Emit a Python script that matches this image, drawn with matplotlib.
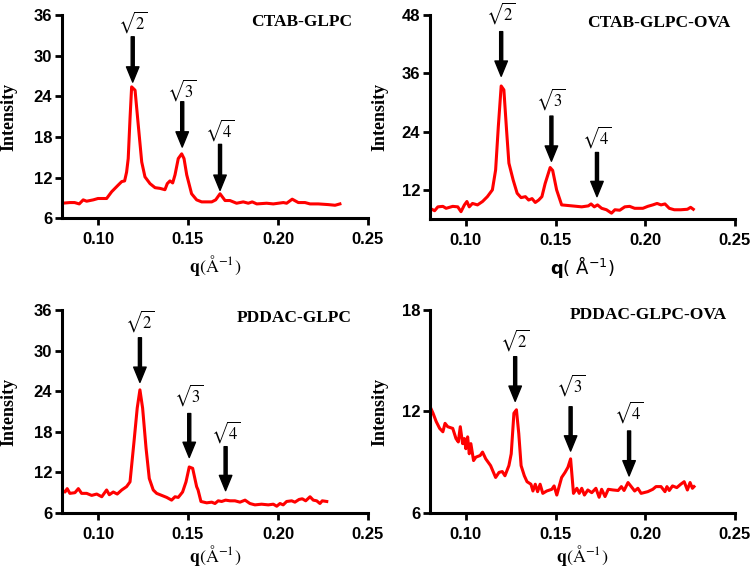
import matplotlib
matplotlib.use("Agg")
import matplotlib.pyplot as plt

plt.rcParams['mathtext.fontset'] = 'stix'

# ---------- data ----------
q_ctab = [0.0800, 0.0844, 0.0870, 0.0896, 0.0918, 0.0937, 0.0974, 0.1000, 0.1048, 0.1076,
          0.1113, 0.1132, 0.1148, 0.1159, 0.1168, 0.1178, 0.1187, 0.1206, 0.1224, 0.1243,
          0.1261, 0.1289, 0.1317, 0.1344, 0.1372, 0.1385, 0.1400, 0.1415, 0.1428, 0.1446,
          0.1465, 0.1478, 0.1493, 0.1520, 0.1548, 0.1576, 0.1632, 0.1654, 0.1678, 0.1706,
          0.1733, 0.1770, 0.1807, 0.1835, 0.1857, 0.1882, 0.1937, 0.1974, 0.2030, 0.2048,
          0.2079, 0.2113, 0.2150, 0.2178, 0.2224, 0.2279, 0.2317, 0.2344]
i_ctab = [8.2, 8.3, 8.3, 8.1, 8.7, 8.5, 8.7, 8.9, 8.9, 9.9,
          10.9, 11.4, 11.5, 12.8, 14.8, 20.7, 25.4, 24.9, 19.7, 14.3,
          12.1, 11.1, 10.5, 10.4, 10.2, 11.1, 11.5, 11.2, 12.4, 14.8,
          15.5, 14.8, 12.4, 9.6, 8.7, 8.4, 8.4, 8.7, 9.6, 8.6,
          8.6, 8.2, 8.4, 8.2, 8.4, 8.1, 8.2, 8.1, 8.3, 8.2,
          8.8, 8.3, 8.3, 8.1, 8.1, 8.0, 7.9, 8.1]

q_ctab_ova = [0.0800, 0.0826, 0.0844, 0.0872, 0.0890, 0.0927, 0.0955, 0.0973, 0.0992, 0.1006,
              0.1019, 0.1037, 0.1065, 0.1093, 0.1120, 0.1148, 0.1166, 0.1181, 0.1197, 0.1212,
              0.1227, 0.1240, 0.1264, 0.1286, 0.1308, 0.1332, 0.1350, 0.1369, 0.1387, 0.1406,
              0.1424, 0.1442, 0.1470, 0.1484, 0.1506, 0.1534, 0.1591, 0.1646, 0.1683, 0.1698,
              0.1716, 0.1734, 0.1757, 0.1784, 0.1812, 0.1831, 0.1858, 0.1886, 0.1913, 0.1941,
              0.1987, 0.2014, 0.2042, 0.2066, 0.2088, 0.2110, 0.2134, 0.2162, 0.2198, 0.2235,
              0.2253, 0.2268]
i_ctab_ova = [8.2, 7.7, 8.5, 8.6, 8.2, 8.6, 8.5, 7.5, 8.9, 9.6,
              8.5, 9.2, 8.9, 9.6, 10.6, 12.0, 16.1, 25.0, 33.4, 32.6,
              24.3, 17.5, 14.0, 11.3, 10.4, 10.6, 9.9, 10.2, 9.4, 9.9,
              10.6, 13.3, 16.6, 16.0, 12.0, 8.9, 8.7, 8.5, 8.7, 9.1,
              8.5, 8.9, 8.2, 7.9, 7.2, 7.9, 7.8, 8.5, 8.6, 8.2,
              8.2, 8.6, 8.9, 9.2, 8.9, 9.1, 8.2, 7.9, 7.9, 8.0,
              8.4, 8.0]

q_pddac = [0.0800, 0.0817, 0.0829, 0.0844, 0.0872, 0.0891, 0.0909, 0.0937, 0.0965, 0.0993,
           0.1021, 0.1048, 0.1063, 0.1085, 0.1107, 0.1132, 0.1159, 0.1178, 0.1200, 0.1218,
           0.1233, 0.1248, 0.1267, 0.1285, 0.1307, 0.1326, 0.1354, 0.1382, 0.1409, 0.1428,
           0.1446, 0.1470, 0.1489, 0.1507, 0.1526, 0.1548, 0.1556, 0.1572, 0.1604, 0.1632,
           0.1650, 0.1668, 0.1687, 0.1709, 0.1733, 0.1761, 0.1789, 0.1817, 0.1844, 0.1872,
           0.1909, 0.1946, 0.1974, 0.1993, 0.2011, 0.2029, 0.2048, 0.2076, 0.2094, 0.2117,
           0.2135, 0.2154, 0.2178, 0.2196, 0.2215, 0.2233, 0.2246, 0.2271]
i_pddac = [9.4, 9.1, 9.6, 8.9, 9.0, 9.6, 8.9, 8.9, 8.6, 8.8,
           8.4, 9.4, 8.7, 9.1, 8.8, 9.4, 9.9, 10.6, 16.5, 21.5,
           24.2, 21.5, 15.6, 11.1, 9.4, 8.9, 8.6, 8.3, 7.9, 8.4,
           8.3, 9.1, 10.6, 12.8, 12.6, 9.9, 9.4, 7.7, 7.5, 7.6,
           7.4, 7.8, 7.7, 7.9, 7.8, 7.8, 7.6, 7.9, 7.4, 7.2,
           7.3, 7.2, 7.3, 7.0, 7.4, 7.2, 7.7, 7.8, 7.6, 8.0,
           8.1, 7.8, 8.4, 7.9, 7.8, 7.4, 7.8, 7.7]

q_pddac_ova = [0.0800, 0.0817, 0.0835, 0.0854, 0.0872, 0.0884, 0.0899, 0.0927, 0.0945, 0.0958,
               0.0969, 0.0982, 0.0992, 0.1000, 0.1010, 0.1019, 0.1028, 0.1043, 0.1056, 0.1080,
               0.1093, 0.1111, 0.1138, 0.1166, 0.1185, 0.1203, 0.1218, 0.1240, 0.1253, 0.1268,
               0.1282, 0.1295, 0.1308, 0.1326, 0.1341, 0.1363, 0.1374, 0.1387, 0.1400, 0.1414,
               0.1429, 0.1451, 0.1479, 0.1492, 0.1507, 0.1534, 0.1553, 0.1569, 0.1584, 0.1600,
               0.1619, 0.1632, 0.1646, 0.1661, 0.1680, 0.1702, 0.1725, 0.1743, 0.1757, 0.1776,
               0.1794, 0.1821, 0.1849, 0.1867, 0.1882, 0.1904, 0.1922, 0.1941, 0.1959, 0.1977,
               0.2014, 0.2042, 0.2060, 0.2088, 0.2110, 0.2121, 0.2134, 0.2152, 0.2176, 0.2198,
               0.2217, 0.2235, 0.2250, 0.2263, 0.2272]
i_pddac_ova = [12.3, 11.9, 11.4, 11.0, 10.8, 11.3, 11.1, 11.0, 10.4, 10.2,
               11.1, 10.1, 10.4, 9.8, 10.5, 9.5, 10.1, 9.1, 9.3, 9.4,
               9.6, 9.2, 8.8, 8.1, 8.4, 8.45, 8.2, 8.8, 9.5, 11.9,
               12.1, 10.7, 8.8, 8.2, 7.85, 7.7, 7.3, 7.7, 7.26, 7.7,
               7.16, 7.3, 7.4, 7.6, 7.06, 8.1, 8.4, 8.7, 9.2, 7.16,
               7.46, 7.16, 7.46, 7.06, 7.36, 7.2, 7.46, 6.93, 7.4, 6.97,
               7.4, 7.36, 7.33, 7.56, 7.33, 7.8, 7.56, 7.3, 7.46, 7.16,
               7.26, 7.4, 7.56, 7.56, 7.26, 7.56, 7.33, 7.6, 7.5, 7.7,
               7.85, 7.36, 7.8, 7.46, 7.56]

titles = ['CTAB-GLPC', 'CTAB-GLPC-OVA', 'PDDAC-GLPC', 'PDDAC-GLPC-OVA']
peak_names = [r'$\sqrt{2}$', r'$\sqrt{3}$', r'$\sqrt{4}$']
y_limits = [(6, 36), (6, 48), (6, 36), (6, 18)]
y_ticks = [[6, 12, 18, 24, 30, 36], [12, 24, 36, 48], [6, 12, 18, 24, 30, 36], [6, 12, 18]]
x_ticks = [0.10, 0.15, 0.20, 0.25]

# arrow x, arrow top, arrow tip, label y  (one row per peak)
marks_ctab = [(0.1193, 32.8, 26.1, 35.0), (0.1468, 23.2, 16.5, 24.9), (0.1678, 16.9, 10.1, 19.0)]
marks_ctab_ova = [(0.1197, 44.6, 35.4, 48.4), (0.1477, 27.2, 17.9, 30.8), (0.1731, 19.7, 10.6, 22.9)]
marks_pddac = [(0.1233, 31.9, 25.3, 34.3), (0.1507, 20.7, 14.2, 23.4), (0.1709, 15.8, 9.3, 18.0)]
marks_pddac_ova = [(0.1275, 15.24, 12.6, 16.2), (0.1584, 12.28, 9.66, 13.56), (0.1910, 10.85, 8.19, 11.99)]

# ---------- plotting ----------
fig = plt.figure(figsize=(7.53, 5.71), dpi=100)

positions = [[0.0823, 0.618, 0.4064, 0.3555],
             [0.571, 0.6165, 0.405, 0.357],
             [0.0823, 0.1016, 0.4064, 0.3555],
             [0.571, 0.1016, 0.405, 0.3555]]
curves = [(q_ctab, i_ctab), (q_ctab_ova, i_ctab_ova), (q_pddac, i_pddac), (q_pddac_ova, i_pddac_ova)]
marks = [marks_ctab, marks_ctab_ova, marks_pddac, marks_pddac_ova]
title_pos = [(0.95, 0.965), (0.985, 0.96), (0.947, 0.959), (0.972, 0.975)]

tick_font = dict(family='Liberation Sans', weight='bold', size=12)

for k in range(4):
    ax = fig.add_axes(positions[k])
    q, inten = curves[k]
    ax.plot(q, inten, color='#ff0000', lw=2.2)

    ax.set_xlim(0.08, 0.25)
    ax.set_ylim(*y_limits[k])
    ax.set_xticks(x_ticks)
    ax.set_xticklabels(['%.2f' % t for t in x_ticks], fontdict=tick_font)
    ax.set_yticks(y_ticks[k])
    ax.set_yticklabels([str(t) for t in y_ticks[k]], fontdict=tick_font)

    for side in ['top', 'right']:
        ax.spines[side].set_visible(False)
    for side in ['left', 'bottom']:
        ax.spines[side].set_linewidth(2.2)
    ax.tick_params(axis='both', direction='out', length=5, width=2.0)
    ax.tick_params(axis='x', pad=5)
    ax.tick_params(axis='y', pad=2)

    ax.set_ylabel('Intensity', family='Liberation Serif', weight='bold', fontsize=13)
    if k % 2 == 0:
        ax.yaxis.set_label_coords(-0.145, 0.5)
    else:
        ax.yaxis.set_label_coords(-0.135, 0.5)

    if k == 1:
        ax.set_xlabel(r'$\mathbf{q}(\ \mathrm{\AA}^{-1})$', fontsize=13, math_fontfamily='dejavusans',
                      va='center')
    else:
        ax.set_xlabel(r'$\mathbf{q}(\mathrm{\AA}^{-1})$', fontsize=13, va='center')
    if k < 2:
        ax.xaxis.set_label_coords(0.5, -0.235)
    else:
        ax.xaxis.set_label_coords(0.5, -0.21)

    ax.text(title_pos[k][0], title_pos[k][1], titles[k], transform=ax.transAxes,
            ha='right', va='center', family='Liberation Serif', weight='bold', fontsize=12.5)

    for name, (xa, ytop, ytip, ylab) in zip(peak_names, marks[k]):
        ax.annotate('', xy=(xa, ytip), xytext=(xa, ytop),
                    arrowprops=dict(facecolor='black', edgecolor='black',
                                    width=2.2, headwidth=9, headlength=11, shrink=0))
        ax.text(xa, ylab, name, ha='center', va='center', fontsize=12, clip_on=False)

fig.savefig('out.png', dpi=100)
